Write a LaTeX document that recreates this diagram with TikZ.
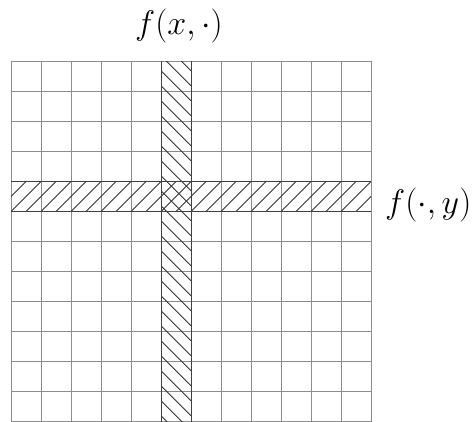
\documentclass[tikz,border=0pt]{standalone}
\begin{document}
\begin{tikzpicture}[x=1pt,y=-1pt,
  gridline/.style={black!45, line width=0.8pt},
  hatchline/.style={black!80, line width=0.9pt},
  bandedge/.style={black!75, line width=0.9pt},
  lbl/.style={inner sep=0pt, font=\Huge}]
\useasboundingbox (0,0) rectangle (473,422);
% grid
\foreach \i in {0,...,12} {
  \draw[gridline] ({11+30*\i},61.5) -- ({11+30*\i},421.5);
  \draw[gridline] (11,{61.5+30*\i}) -- (371,{61.5+30*\i});
}
% vertical band hatch (\)
\begin{scope}
  \clip (161,61.5) rectangle (191,421.5);
  \foreach \k in {-3,...,26}
    \draw[hatchline] (161,{55.7+15*\k}) -- (191,{85.7+15*\k});
\end{scope}
% horizontal band hatch (/)
\begin{scope}
  \clip (11,181.5) rectangle (371,211.5);
  \foreach \k in {-2,...,25}
    \draw[hatchline] ({11+15*\k},211.5) -- ({41+15*\k},181.5);
\end{scope}
% band edges
\draw[bandedge] (161,61.5) -- (161,421.5);
\draw[bandedge] (191,61.5) -- (191,421.5);
\draw[bandedge] (11,181.5) -- (371,181.5);
\draw[bandedge] (11,211.5) -- (371,211.5);
% labels
\node[lbl] (fx) at (179,25.5) {\scalebox{1.37}{$f(x,\cdot)$}};
\node[lbl, anchor=west] (fy) at (385,205) {\scalebox{1.37}{$f(\cdot,y)$}};
\end{tikzpicture}
\end{document}
